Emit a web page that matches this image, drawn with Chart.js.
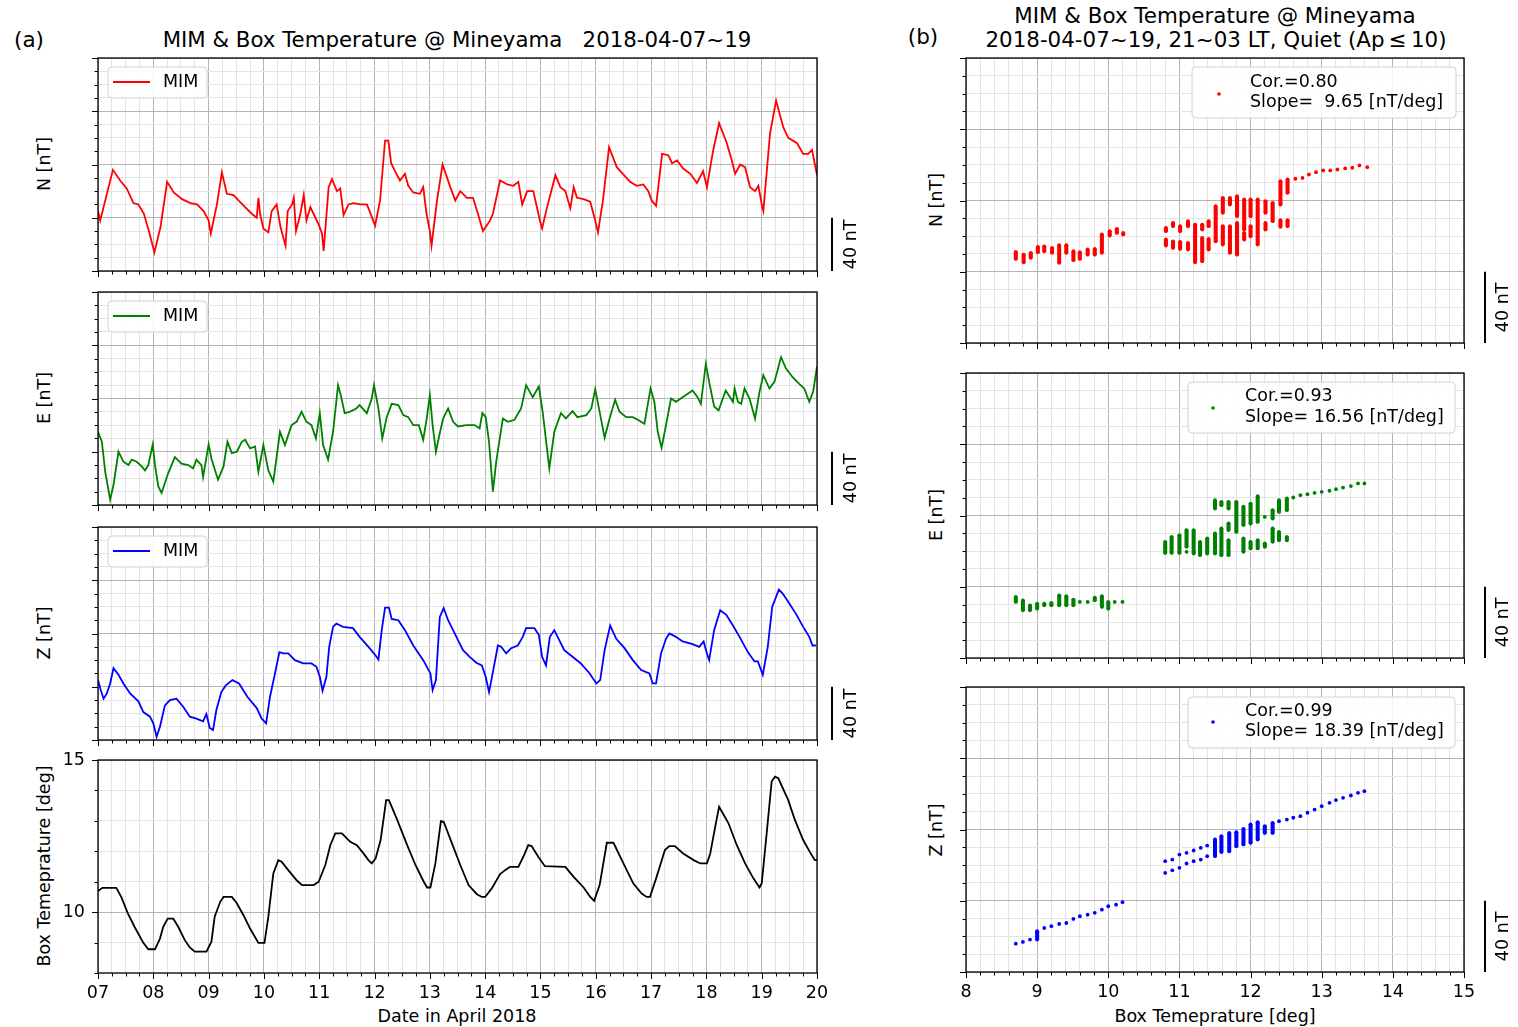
<!DOCTYPE html>
<html>
<head>
<meta charset="utf-8">
<title>MIM &amp; Box Temperature @ Mineyama</title>
<script src="https://cdn.jsdelivr.net/npm/chart.js@4.4.1/dist/chart.umd.min.js"></script>
<style>
  body { margin: 0; background: #fff; }
  #page { position: relative; width: 1518px; height: 1027px; overflow: hidden;
          font-family: "DejaVu Sans", sans-serif; color: #000; }
  canvas { position: absolute; }
  .lbl { position: absolute; white-space: pre; line-height: 1; transform: translate(-50%, -50%); }
  .rot { transform: translate(-50%, -50%) rotate(-90deg); }
</style>
</head>
<body>
<div id="page">
  <div class="lbl" style="left:29px;top:40px;font-size:21.5px">(a)</div>
  <div class="lbl" style="left:457px;top:40px;font-size:21.3px">MIM &amp; Box Temperature @ Mineyama   2018-04-07~19</div>
  <div class="lbl" style="left:923px;top:37px;font-size:21.5px">(b)</div>
  <div class="lbl" style="left:1215px;top:16px;font-size:21.4px">MIM &amp; Box Temperature @ Mineyama</div>
  <div class="lbl" style="left:1216px;top:40px;font-size:21.4px">2018-04-07~19, 21~03 LT, Quiet (Ap&#8201;≤&#8201;10)</div>

  <div class="lbl rot" style="left:45px;top:164px;font-size:17.5px">N [nT]</div>
  <div class="lbl rot" style="left:45px;top:398px;font-size:17.5px">E [nT]</div>
  <div class="lbl rot" style="left:45px;top:633px;font-size:17.5px">Z [nT]</div>
  <div class="lbl rot" style="left:45px;top:866px;font-size:17.5px">Box Temeprature [deg]</div>
  <div class="lbl" style="left:457px;top:1017px;font-size:17.5px">Date in April 2018</div>

  <div class="lbl rot" style="left:937px;top:200px;font-size:17.5px">N [nT]</div>
  <div class="lbl rot" style="left:937px;top:515px;font-size:17.5px">E [nT]</div>
  <div class="lbl rot" style="left:937px;top:830px;font-size:17.5px">Z [nT]</div>
  <div class="lbl" style="left:1215px;top:1017px;font-size:17.5px">Box Temeprature [deg]</div>
</div>
<script>
// ---- values ----
// time series: [day of April 2018, value]; magnetic values in nT above panel bottom
const nTrace = [[7.00,45],[7.04,38],[7.27,76],[7.40,68],[7.52,62],[7.64,51],[7.73,50],[7.83,43],[7.92,30],[8.02,14],[8.13,33],[8.25,67],[8.37,59],[8.52,54],[8.67,51],[8.79,50],[8.91,45],[9.00,38],[9.04,28],[9.15,50],[9.24,74],[9.33,58],[9.45,57],[9.54,53],[9.66,48],[9.78,43],[9.87,40],[9.90,55],[9.93,43],[9.99,32],[10.08,29],[10.14,45],[10.23,50],[10.30,33],[10.39,19],[10.43,45],[10.51,50],[10.54,55],[10.58,30],[10.66,43],[10.72,57],[10.77,38],[10.84,48],[10.93,40],[10.99,35],[11.05,28],[11.08,15],[11.17,63],[11.23,69],[11.32,60],[11.38,62],[11.44,42],[11.53,50],[11.62,51],[11.74,50],[11.86,50],[11.92,44],[12.01,34],[12.10,53],[12.19,98],[12.25,98],[12.30,81],[12.37,75],[12.46,68],[12.55,73],[12.61,64],[12.70,59],[12.82,58],[12.88,63],[12.94,43],[13.00,30],[13.03,19],[13.13,53],[13.23,80],[13.37,63],[13.46,53],[13.55,60],[13.67,55],[13.78,55],[13.87,43],[13.96,30],[14.09,38],[14.14,43],[14.27,68],[14.40,65],[14.51,64],[14.60,67],[14.67,50],[14.76,60],[14.87,60],[14.99,38],[15.03,32],[15.12,48],[15.27,72],[15.36,63],[15.45,60],[15.54,47],[15.60,63],[15.66,55],[15.78,54],[15.90,52],[15.99,38],[16.04,29],[16.13,53],[16.24,93],[16.38,78],[16.49,73],[16.62,67],[16.74,64],[16.86,65],[16.95,60],[17.01,53],[17.09,49],[17.20,88],[17.31,87],[17.38,81],[17.47,83],[17.58,77],[17.71,73],[17.83,66],[17.94,75],[18.01,63],[18.03,68],[18.12,90],[18.23,111],[18.37,96],[18.46,83],[18.52,73],[18.61,80],[18.70,78],[18.79,63],[18.88,60],[18.94,64],[19.01,48],[19.03,45],[19.15,103],[19.26,128],[19.39,108],[19.48,100],[19.64,96],[19.75,88],[19.84,88],[19.91,91],[20.00,72]];

const eTrace = [[7.00,55],[7.07,47.5],[7.13,25],[7.22,4],[7.28,15],[7.37,40],[7.46,32.5],[7.55,30],[7.61,34],[7.70,32.5],[7.79,29],[7.85,26],[7.91,30],[7.99,45.5],[8.03,30],[8.09,14],[8.15,9],[8.27,24],[8.39,36],[8.51,31],[8.63,30],[8.72,27.5],[8.78,34],[8.87,30],[8.90,21],[9.00,45.5],[9.05,35],[9.17,19],[9.27,29],[9.34,47.5],[9.42,39],[9.51,40],[9.60,47.5],[9.66,49],[9.75,42.5],[9.84,44],[9.90,25],[9.99,45],[10.08,26],[10.17,17.5],[10.29,55],[10.38,45],[10.50,60],[10.59,62.5],[10.68,70],[10.77,62.5],[10.86,60],[10.94,50],[11.01,69],[11.07,45],[11.16,34],[11.25,55],[11.34,90],[11.39,82.5],[11.46,69],[11.55,70],[11.67,72.5],[11.73,75],[11.86,69],[11.95,80],[11.99,90],[12.07,72.5],[12.14,50],[12.22,66],[12.31,76],[12.43,75],[12.52,67.5],[12.61,66],[12.70,60],[12.80,60],[12.88,49],[12.94,64],[13.00,82.5],[13.05,60],[13.11,40],[13.18,54],[13.24,65],[13.33,72.5],[13.42,62.5],[13.51,59],[13.66,60],[13.81,60],[13.90,57.5],[13.95,69],[14.01,66],[14.07,47.5],[14.14,10],[14.20,32.5],[14.32,65],[14.41,62.5],[14.53,64],[14.65,72.5],[14.74,90],[14.86,81],[14.97,89],[15.04,70],[15.16,27.5],[15.25,55],[15.37,69],[15.46,65],[15.58,70.5],[15.67,66],[15.83,67.5],[15.92,72.5],[15.99,87],[16.07,70],[16.16,50.5],[16.25,65],[16.35,79],[16.43,70],[16.55,66],[16.67,66],[16.76,64],[16.88,61],[16.99,87.5],[17.06,77.5],[17.12,55],[17.19,43],[17.27,60],[17.36,80],[17.45,77.5],[17.57,81],[17.75,86],[17.84,81],[17.90,76],[17.99,106],[18.05,92.5],[18.14,74],[18.22,71],[18.35,86],[18.48,77.5],[18.51,87.5],[18.57,77.5],[18.63,76],[18.69,87.5],[18.78,80],[18.88,65],[18.96,85],[19.03,97.5],[19.14,87.5],[19.23,92.5],[19.35,111],[19.44,102.5],[19.56,96],[19.68,91],[19.77,87.5],[19.86,77.5],[19.93,85],[20.00,104]];

const zTrace = [[7.00,45],[7.05,37.5],[7.10,31],[7.16,35],[7.22,42.5],[7.28,54],[7.37,49],[7.46,42.5],[7.58,35],[7.73,29],[7.82,21],[7.94,17.5],[8.00,12.5],[8.06,2.5],[8.12,10],[8.21,26],[8.30,30],[8.42,31],[8.54,25],[8.66,17.5],[8.78,16],[8.90,14],[8.96,19.5],[9.02,9],[9.08,7.5],[9.14,22.5],[9.23,36],[9.31,41],[9.43,45],[9.55,42.5],[9.70,32.5],[9.87,24],[9.96,16],[10.04,12.5],[10.11,32.5],[10.20,50],[10.28,66],[10.35,65],[10.44,65],[10.56,60],[10.71,57.5],[10.86,57.5],[10.95,55],[11.01,47.5],[11.06,37],[11.13,47.5],[11.18,70],[11.25,85],[11.31,87.5],[11.43,85],[11.61,84],[11.73,77.5],[11.89,70],[12.01,64],[12.07,60.5],[12.13,82.5],[12.19,99.5],[12.26,99.5],[12.31,91],[12.43,90],[12.55,82.5],[12.70,71],[12.88,60],[13.01,50],[13.05,37.5],[13.11,45],[13.18,92.5],[13.25,99],[13.33,90],[13.42,82.5],[13.48,77.5],[13.60,67.5],[13.72,62.5],[13.84,58],[13.94,56],[14.01,47.5],[14.07,36],[14.14,51],[14.23,71],[14.29,70],[14.38,65],[14.47,69],[14.59,71],[14.68,77.5],[14.74,84],[14.89,84],[14.97,79],[15.03,62.5],[15.10,56],[15.17,77.5],[15.25,82.5],[15.34,75],[15.43,67.5],[15.58,62.5],[15.73,57.5],[15.89,50],[16.01,42.5],[16.08,45],[16.16,67.5],[16.26,86],[16.37,76],[16.52,69],[16.67,60],[16.82,52.5],[16.97,50],[17.03,42.5],[17.09,42.5],[17.18,65],[17.27,76],[17.33,80],[17.45,77.5],[17.57,74],[17.75,72],[17.87,70],[17.95,74],[18.01,65],[18.05,60],[18.14,82.5],[18.25,97.5],[18.36,94],[18.48,86],[18.60,77.5],[18.75,66],[18.87,59],[18.93,59],[19.02,49],[19.11,70],[19.19,100],[19.31,113],[19.38,110],[19.50,102.5],[19.63,94],[19.75,85],[19.86,77.5],[19.92,71],[19.98,71]];

const tempTrace = [[7.00,10.69],[7.08,10.80],[7.33,10.80],[7.42,10.50],[7.54,9.96],[7.66,9.52],[7.82,8.99],[7.91,8.78],[8.03,8.78],[8.12,9.13],[8.18,9.52],[8.26,9.79],[8.36,9.79],[8.45,9.52],[8.57,9.08],[8.66,8.84],[8.75,8.70],[8.96,8.70],[9.05,9.02],[9.11,9.85],[9.21,10.34],[9.27,10.50],[9.42,10.50],[9.51,10.29],[9.63,9.90],[9.75,9.46],[9.90,8.99],[10.01,8.99],[10.08,9.85],[10.17,11.27],[10.26,11.71],[10.32,11.66],[10.44,11.38],[10.60,11.03],[10.69,10.89],[10.90,10.89],[10.99,11.00],[11.11,11.55],[11.20,12.20],[11.29,12.59],[11.41,12.59],[11.56,12.31],[11.68,12.20],[11.80,11.93],[11.89,11.71],[11.95,11.60],[12.02,11.77],[12.11,12.37],[12.21,13.68],[12.26,13.68],[12.41,13.03],[12.59,12.20],[12.74,11.55],[12.89,11.00],[12.95,10.81],[13.01,10.81],[13.10,11.60],[13.20,12.99],[13.25,12.97],[13.40,12.26],[13.55,11.55],[13.70,10.89],[13.85,10.59],[13.94,10.50],[14.00,10.50],[14.12,10.78],[14.27,11.25],[14.36,11.38],[14.45,11.49],[14.60,11.49],[14.69,11.82],[14.78,12.20],[14.84,12.17],[14.96,11.82],[15.08,11.51],[15.45,11.49],[15.60,11.16],[15.78,10.81],[15.90,10.50],[15.97,10.37],[16.07,10.89],[16.20,12.28],[16.32,12.28],[16.50,11.60],[16.68,10.94],[16.83,10.61],[16.92,10.50],[16.98,10.50],[17.10,11.16],[17.25,12.04],[17.33,12.17],[17.43,12.17],[17.58,11.93],[17.77,11.71],[17.89,11.60],[18.01,11.60],[18.07,11.93],[18.16,12.81],[18.23,13.46],[18.40,12.92],[18.55,12.20],[18.70,11.60],[18.85,11.11],[18.96,10.81],[19.00,10.94],[19.09,12.59],[19.18,14.29],[19.24,14.45],[19.30,14.40],[19.48,13.68],[19.60,13.03],[19.75,12.37],[19.87,11.98],[19.96,11.71],[20.00,11.71]];

// scatter (night-time quiet samples): [box temperature, lowest nT, highest nT] per temperature step
const nCols = [[8.70,47.2,51.1],[8.81,45.3,49.6],[8.91,47.8,50.6],[9.01,51,54],[9.10,51.5,54.3],[9.21,50.6,53.4],[9.31,45,54.9],[9.41,50.6,54.9],[9.51,46.5,51.5],[9.60,47.2,51],[9.71,49.6,52.5],[9.81,49.6,52.8],[9.91,50.6,60.9],[10.02,60.3,62.8],[10.12,61.8,64.1],[10.21,60.9,61.8],
  [10.81,62.8,64.6],[10.81,54.7,58.1],[10.91,65.6,67.4],[10.91,53.4,57.1],[11.01,62.8,65.6],[11.01,52.8,56.8],[11.12,65.6,68.4],[11.12,52.5,56.2],[11.22,45.3,66.5],[11.32,63.7,66.5],[11.32,45.9,59],[11.41,65.6,68.4],[11.41,52.5,58.5],[11.51,57.1,76.8],[11.61,73.1,81.5],[11.61,55.3,65.6],[11.71,77.7,81.5],[11.71,50.6,65.6],[11.81,71.2,82.4],[11.81,49.6,67.4],[11.91,63.7,80.6],[11.91,58.1,61.8],[12.00,71.2,80.6],[12.00,60,65.6],[12.10,55.3,80.6],[12.21,73.1,79.6],[12.21,63.7,67.4],[12.31,68.4,78.7],[12.42,77.7,90.9],[12.42,65.2,68.9],[12.52,84.3,91.8],[12.52,65.6,68.9],[12.63,92.2,92.2],[12.73,92.7,92.7],[12.82,94.6,94.6],[12.92,95.9,95.9],[13.02,96.9,96.9],[13.12,96.9,96.9],[13.22,97.4,97.4],[13.33,98,98],[13.43,98.4,98.4],[13.53,99.7,99.7],[13.64,98.7,98.7]];

const eCols = [[8.70,31.5,34.3],[8.80,26.8,32.4],[8.90,26.8,29.6],[9.00,27.7,30.5],[9.10,29.6,30.5],[9.20,29.6,30.9],[9.31,29.6,35.2],[9.41,29.6,34.7],[9.51,29.6,32.8],[9.60,31.5,31.5],[9.71,31.5,31.5],[9.81,32.4,33.9],[9.91,28.7,34.7],[10.00,27.7,31.5],[10.09,31.5,31.5],[10.20,31.5,31.5],
  [10.80,59,65.2],[10.89,59,68],[11.00,59,68.9],[11.10,62.4,71.8],[11.10,59.6,59.6],[11.20,58.6,71.8],[11.29,57.7,65.2],[11.39,58.6,67.1],[11.50,83.9,88.6],[11.50,58.6,69.9],[11.59,85.8,87.7],[11.59,57.7,72.7],[11.69,83.9,87.7],[11.69,71.8,75.5],[11.69,57.7,66.1],[11.80,70.8,87.7],[11.90,74.6,84.9],[11.90,59.6,67.1],[12.00,75.5,86.7],[12.00,61.5,65.2],[12.10,76.4,90.9],[12.10,61.5,66.1],[12.20,79.2,79.2],[12.20,62.4,64.3],[12.31,78.3,83],[12.31,65.2,72.7],[12.40,82,88.6],[12.40,66.1,70.8],[12.51,83,89.6],[12.51,66.1,68],[12.60,90.1,90.1],[12.70,91.4,91.4],[12.80,92,92],[12.90,92.7,92.7],[13.00,93.3,93.3],[13.11,93.9,93.9],[13.20,94.8,94.8],[13.30,95.7,95.7],[13.41,96.5,96.5],[13.51,98,98],[13.60,98,98]];

const zCols = [[8.70,15.9,15.9],[8.80,16.9,16.9],[8.90,18.2,18.2],[9.00,18.2,22.9],[9.10,24.7,24.7],[9.20,25.7,25.7],[9.31,27,27],[9.41,27.5,27.5],[9.51,29.8,29.8],[9.60,31.3,31.3],[9.71,32.2,32.2],[9.81,33.2,33.2],[9.91,35,35],[10.00,36.9,36.9],[10.11,37.8,37.8],[10.20,39.2,39.2],
  [10.80,62.2,62.2],[10.80,55.6,55.6],[10.90,63.1,63.1],[10.90,57.1,57.1],[11.00,65.9,65.9],[11.00,58.5,58.5],[11.10,66.9,66.9],[11.10,60.9,60.9],[11.20,68.2,68.2],[11.20,62.2,62.2],[11.30,69.7,69.7],[11.30,63.1,63.1],[11.39,71,71],[11.39,65,65],[11.50,65,74.4],[11.59,67.3,76.3],[11.70,67.8,78.1],[11.80,70.6,78.5],[11.90,71.6,80.4],[12.00,72.5,82.8],[12.10,74.4,84.1],[12.20,78.1,81.9],[12.31,78.1,83.7],[12.40,84.7,84.7],[12.51,85.6,85.6],[12.60,86.6,86.6],[12.70,87.5,87.5],[12.80,89.4,89.4],[12.90,91.2,91.2],[13.00,93.1,93.1],[13.11,95,95],[13.20,96.5,96.5],[13.30,97.8,97.8],[13.41,99.1,99.1],[13.51,100.6,100.6],[13.60,101.5,101.5]];

const dayLabels = ['07','08','09','10','11','12','13','14','15','16','17','18','19','20'];
const degLabels = ['8','9','10','11','12','13','14','15'];
const tempLabels = ['10','15'];
const nFit = ['Cor.=0.80', 'Slope=  9.65 [nT/deg]'];
const eFit = ['Cor.=0.93', 'Slope= 16.56 [nT/deg]'];
const zFit = ['Cor.=0.99', 'Slope= 18.39 [nT/deg]'];
const seriesName = 'MIM';
const barSize = 40;
const barLabel = '40 nT';

// ---- drawing ----
Chart.defaults.font.family = '"DejaVu Sans", sans-serif';
Chart.defaults.font.size = 17.5;
Chart.defaults.color = '#000';

const GRID_MAJOR = '#b4b4b4';
const GRID_MINOR = '#e4e4e4';

function onStep(v, step) {
  const r = v / step;
  return Math.abs(r - Math.round(r)) < 1e-6;
}

// linear axis with minor grid steps and darker major lines; box size fixed (labels need room)
function makeAxis(o) {
  return {
    type: 'linear', min: o.min, max: o.max, offset: false,
    afterBuildTicks(scale) {
      const n = Math.round((o.max - o.min) / o.minor);
      const ticks = [];
      for (let i = 0; i <= n; i++) ticks.push({ value: +(o.min + i * o.minor).toFixed(4) });
      scale.ticks = ticks;
    },
    afterFit(scale) {
      if (scale.isHorizontal()) scale.height = o.size || 0; else scale.width = o.size || 0;
      // keep the plot area exactly where the layout padding puts it
      scale.paddingTop = scale.paddingBottom = scale.paddingLeft = scale.paddingRight = 0;
    },
    grid: {
      drawTicks: false, offset: false, lineWidth: 1,
      color: c => (c.tick && onStep(c.tick.value, o.major)) ? GRID_MAJOR : GRID_MINOR
    },
    border: { display: false },
    ticks: {
      display: !!o.label, autoSkip: false, maxRotation: 0, minRotation: 0, padding: o.pad || 0,
      callback: v => (o.label && onStep(v, o.major)) ? o.label(v) : ''
    }
  };
}

// frame + outward tick marks (long on major, short on minor)
const framePlugin = {
  id: 'frame',
  afterDraw(chart, args, o) {
    const { ctx, chartArea: a, scales: { x, y } } = chart;
    ctx.save();
    ctx.strokeStyle = '#000';
    ctx.lineWidth = 1;
    ctx.beginPath();
    x.ticks.forEach(t => {
      const px = Math.round(x.getPixelForValue(t.value)) + 0.5;
      const len = onStep(t.value, o.xMajor) ? 6 : 3.5;
      ctx.moveTo(px, a.bottom); ctx.lineTo(px, a.bottom + len);
    });
    y.ticks.forEach(t => {
      const py = Math.round(y.getPixelForValue(t.value)) + 0.5;
      const len = onStep(t.value, o.yMajor) ? 6 : 3.5;
      ctx.moveTo(a.left, py); ctx.lineTo(a.left - len, py);
    });
    ctx.stroke();
    ctx.lineWidth = 1.3;
    ctx.strokeRect(a.left, a.top, a.right - a.left, a.bottom - a.top);
    ctx.restore();
  }
};

// vertical "40 nT" bar to the right of a panel, sized by the y scale
const scaleBarPlugin = {
  id: 'scaleBar',
  afterDraw(chart, args, o) {
    if (!o || !o.size) return;
    const { ctx, chartArea: a, scales: { y } } = chart;
    const y0 = y.getPixelForValue(y.min);
    const y1 = y.getPixelForValue(y.min + o.size);
    ctx.save();
    ctx.strokeStyle = '#000';
    ctx.lineWidth = 2;
    ctx.beginPath();
    ctx.moveTo(a.right + o.dx, y0); ctx.lineTo(a.right + o.dx, y1);
    ctx.stroke();
    ctx.translate(a.right + o.tx, (y0 + y1) / 2);
    ctx.rotate(-Math.PI / 2);
    ctx.font = '17.5px "DejaVu Sans", sans-serif';
    ctx.fillStyle = '#000';
    ctx.textAlign = 'center';
    ctx.textBaseline = 'middle';
    ctx.fillText(o.text, 0, 0);
    ctx.restore();
  }
};

// matplotlib-like legend box inside the plot area
const boxLegendPlugin = {
  id: 'boxLegend',
  afterDraw(chart, args, o) {
    if (!o || !o.texts) return;
    const { ctx, chartArea: a } = chart;
    ctx.save();
    ctx.beginPath();
    ctx.roundRect(a.left + o.x, a.top + o.y, o.w, o.h, 4);
    ctx.fillStyle = 'rgba(255,255,255,0.85)';
    ctx.fill();
    ctx.strokeStyle = '#d2d2d2';
    ctx.lineWidth = 1;
    ctx.stroke();
    ctx.strokeStyle = o.color;
    ctx.fillStyle = o.color;
    if (o.marker === 'line') {
      ctx.lineWidth = 1.8;
      ctx.beginPath();
      ctx.moveTo(a.left + o.mx, a.top + o.my); ctx.lineTo(a.left + o.mx2, a.top + o.my);
      ctx.stroke();
    } else {
      ctx.beginPath();
      ctx.arc(a.left + o.mx, a.top + o.my, 1.8, 0, Math.PI * 2);
      ctx.fill();
    }
    ctx.fillStyle = '#000';
    ctx.font = '17.5px "DejaVu Sans", sans-serif';
    ctx.textAlign = 'left';
    ctx.textBaseline = 'middle';
    o.texts.forEach((t, i) => ctx.fillText(t, a.left + o.tx, a.top + o.ty[i]));
    ctx.restore();
  }
};

function addCanvas(left, top, w, h) {
  const c = document.createElement('canvas');
  c.width = w; c.height = h;
  c.style.left = left + 'px'; c.style.top = top + 'px';
  c.style.width = w + 'px'; c.style.height = h + 'px';
  document.getElementById('page').appendChild(c);
  return c;
}

const nTAxis = { min: 0, max: 160, minor: 10, major: 40 };
const X_LABEL_BOX = 40;

function leftPanel(top, trace, color, yAxis, extra) {
  const bottomPad = extra.xLabels ? 46 : 14;
  const c = addCanvas(60, top - 10, 820, 10 + 213 + bottomPad);
  return new Chart(c, {
    type: 'line',
    data: {
      datasets: [{
        label: seriesName,
        data: trace.map(p => ({ x: p[0], y: p[1] })),
        borderColor: color, borderWidth: 1.8, pointRadius: 0, tension: 0, fill: false
      }]
    },
    options: {
      responsive: false, animation: false, events: [],
      layout: { padding: { left: 38 - (yAxis.size || 0), right: 63, top: 10,
                           bottom: bottomPad - (extra.xLabels ? X_LABEL_BOX : 0) } },
      scales: {
        x: makeAxis({ min: 7, max: 20, minor: 0.25, major: 1, pad: 10,
                      size: extra.xLabels ? X_LABEL_BOX : 0,
                      label: extra.xLabels ? v => dayLabels[Math.round(v) - 7] : null }),
        y: makeAxis(yAxis)
      },
      plugins: {
        legend: { display: false }, tooltip: { enabled: false },
        frame: { xMajor: 1, yMajor: yAxis.major },
        scaleBar: extra.bar ? { size: barSize, text: barLabel, dx: 15, tx: 34 } : {},
        boxLegend: extra.legend ? {
          x: 10, y: 9, w: 99, h: 31, marker: 'line', color: color,
          mx: 15, mx2: 52, my: 24, tx: 65, ty: [24], texts: [seriesName]
        } : {}
      }
    },
    plugins: [boxLegendPlugin, scaleBarPlugin, framePlugin]
  });
}

function rightPanel(top, cols, color, fit, leg, extra) {
  const bottomPad = extra.xLabels ? 46 : 14;
  const c = addCanvas(940, top - 10, 578, 10 + 285 + bottomPad);
  const dots = [];
  cols.forEach(([t, lo, hi]) => {
    dots.push({ x: t, y: lo });
    if (hi !== lo) dots.push({ x: t, y: hi });
  });
  const runs = cols.filter(([, lo, hi]) => hi > lo).map(([t, lo, hi]) => ({ x: t, y: [lo, hi] }));
  return new Chart(c, {
    type: 'scatter',
    data: {
      datasets: [
        { type: 'bar', data: runs, backgroundColor: color, borderWidth: 0, barThickness: 3.4,
          grouped: false, borderSkipped: false },
        { type: 'scatter', data: dots, pointBackgroundColor: color, pointBorderColor: color,
          pointBorderWidth: 0, pointRadius: 1.9 }
      ]
    },
    options: {
      responsive: false, animation: false, events: [],
      layout: { padding: { left: 26, right: 54, top: 10,
                           bottom: bottomPad - (extra.xLabels ? X_LABEL_BOX : 0) } },
      scales: {
        x: makeAxis({ min: 8, max: 15, minor: 0.2, major: 1, pad: 10,
                      size: extra.xLabels ? X_LABEL_BOX : 0,
                      label: extra.xLabels ? v => degLabels[Math.round(v) - 8] : null }),
        y: makeAxis(nTAxis)
      },
      plugins: {
        legend: { display: false }, tooltip: { enabled: false },
        frame: { xMajor: 1, yMajor: 40 },
        scaleBar: { size: barSize, text: barLabel, dx: 21, tx: 39 },
        boxLegend: Object.assign({ marker: 'dot', color: color, texts: fit }, leg)
      }
    },
    plugins: [boxLegendPlugin, scaleBarPlugin, framePlugin]
  });
}

leftPanel(58, nTrace, '#ff0000', nTAxis, { bar: true, legend: true });
leftPanel(292, eTrace, '#008000', nTAxis, { bar: true, legend: true });
leftPanel(527, zTrace, '#0000ff', nTAxis, { bar: true, legend: true });
leftPanel(760, tempTrace, '#000000',
  { min: 8, max: 15, minor: 1, major: 5, pad: 13, size: 38,
    label: v => tempLabels[Math.round(v) / 5 - 2] },
  { xLabels: true });

rightPanel(58, nCols, '#ff0000', nFit,
  { x: 226, y: 9, w: 264, h: 51, mx: 253, my: 36, tx: 284, ty: [24, 44] }, {});
rightPanel(373, eCols, '#008000', eFit,
  { x: 222, y: 9, w: 267, h: 51, mx: 247, my: 35, tx: 279, ty: [23, 44] }, {});
rightPanel(687, zCols, '#0000ff', zFit,
  { x: 222, y: 10, w: 267, h: 51, mx: 247, my: 35, tx: 279, ty: [24, 44] }, { xLabels: true });
</script>
</body>
</html>
